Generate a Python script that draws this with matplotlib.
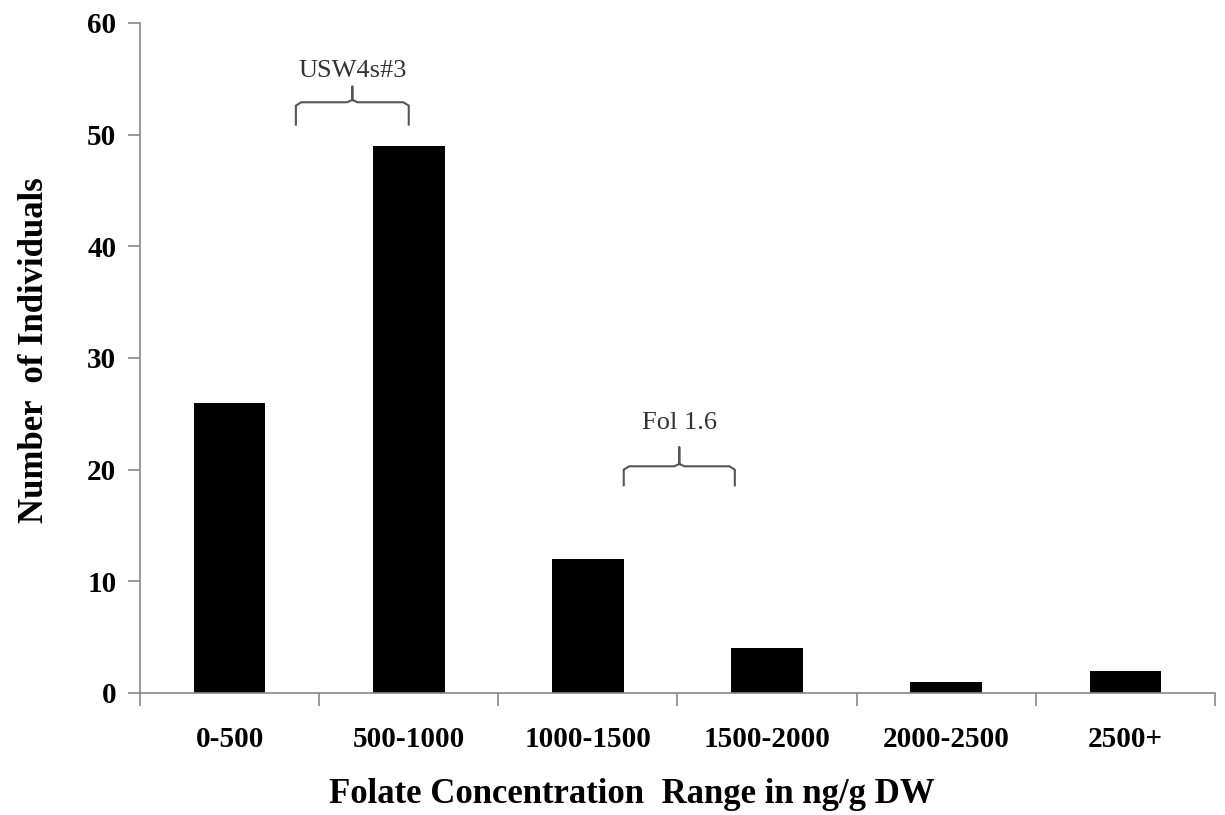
import numpy as np
import matplotlib
matplotlib.use('Agg')
import matplotlib.pyplot as plt

# veriler
categories = ['0-500', '500-1000', '1000-1500', '1500-2000', '2000-2500', '2500+']
counts = [26, 49, 12, 4, 1, 2]

# parantez notları: (etiket, sol x, sağ x, alt y, yatay y, uç y, metin y)
brackets = [
    ('USW4s#3', 0.37, 1.0, 50.9, 52.9, 54.3, 55.7),
    ('Fol 1.6', 2.2, 2.82, 18.6, 20.3, 22.0, 24.2),
]

plt.rcParams['font.family'] = ['Liberation Serif', 'DejaVu Serif']

fig = plt.figure(figsize=(12.25, 8.15), dpi=100)
ax = fig.add_axes([0.1143, 0.1497, 0.8775, 0.8221])

x = np.arange(len(categories))
ax.bar(x, counts, width=0.4, color='black')

ax.set_xlim(-0.5, len(categories) - 0.5)
ax.set_ylim(0, 60)
ax.set_yticks(np.arange(0, 61, 10))
ax.set_xticks(x)
ax.set_xticklabels(categories)
ax.set_xticks(np.arange(-0.5, len(categories), 1), minor=True)
ax.tick_params(axis='x', which='major', length=0, pad=24, labelsize=21)
ax.tick_params(axis='x', which='minor', length=9, width=1.2, color='#888888', direction='out')
ax.tick_params(axis='y', length=9, width=1.2, color='#888888', labelsize=21, pad=8)
for lab in ax.get_xticklabels() + ax.get_yticklabels():
    lab.set_fontweight('bold')

for s in ['top', 'right']:
    ax.spines[s].set_visible(False)
for s in ['left', 'bottom']:
    ax.spines[s].set_color('#888888')
    ax.spines[s].set_linewidth(1.2)

# parantezler
for label, x0, x1, yb, yh, yt, ytxt in brackets:
    xm = (x0 + x1) / 2
    r = 0.03
    bx = [x0, x0, x0 + r, xm - r, xm, xm, xm, xm + r, x1 - r, x1, x1]
    by = [yb, yh - 0.3, yh, yh, yh + 0.2, yt, yh + 0.2, yh, yh, yh - 0.3, yb]
    ax.plot(bx, by, color='#555555', lw=1.5, clip_on=False)
    ax.text(xm, ytxt, label, ha='center', va='center', fontsize=19, color='#333333')

fig.text(0.028, 0.571, 'Number  of Individuals', rotation=90, ha='center', va='center',
         fontsize=25, fontweight='bold')
fig.text(0.516, 0.025, 'Folate Concentration  Range in ng/g DW', ha='center', va='center',
         fontsize=25, fontweight='bold')

plt.savefig('out.png', dpi=100)
